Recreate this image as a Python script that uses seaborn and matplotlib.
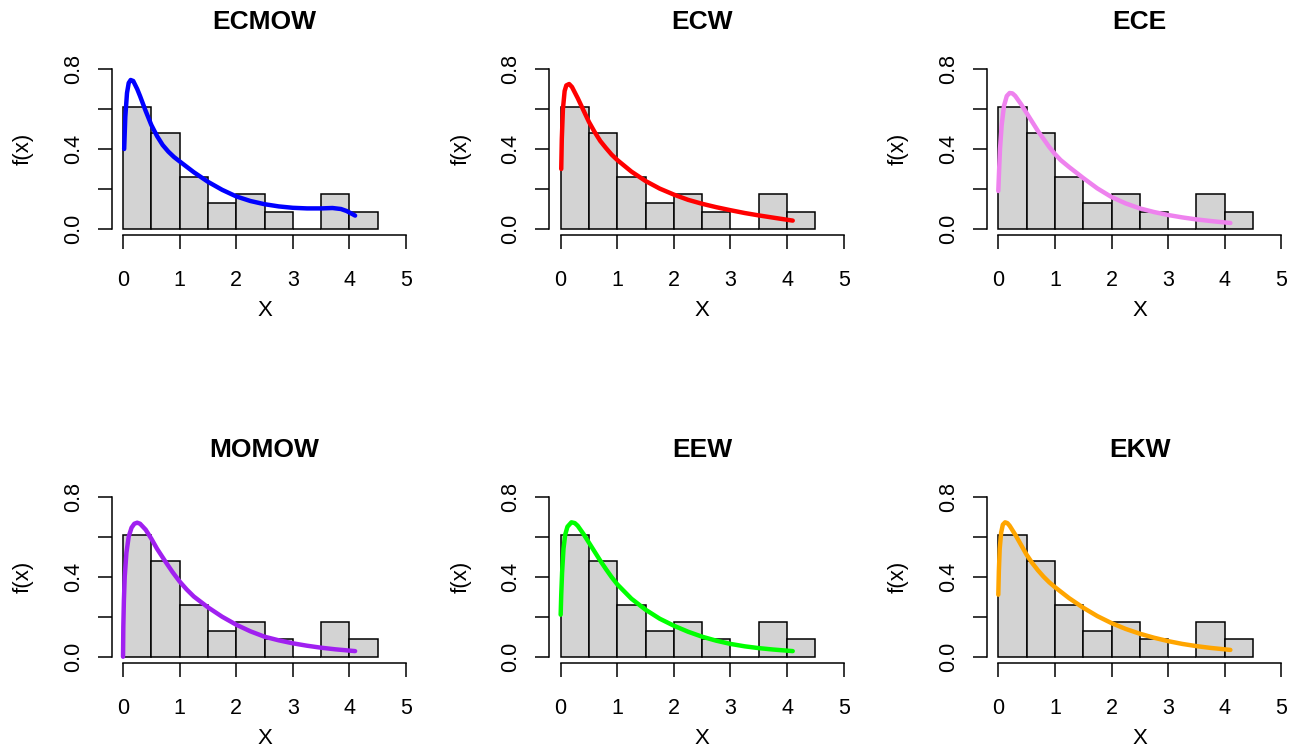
import numpy as np
import pandas as pd
import matplotlib
matplotlib.use("Agg")
import matplotlib.pyplot as plt
import seaborn as sns

# Histogram (shared by all panels): bin edges and density heights
bin_edges = [0, 0.5, 1, 1.5, 2, 2.5, 3, 3.5, 4, 4.5]
bin_density = [0.609, 0.478, 0.261, 0.130, 0.174, 0.087, 0.0, 0.174, 0.087]

# Fitted densities
ecmow_x = [0.02, 0.04, 0.07, 0.1, 0.135, 0.18, 0.25, 0.3, 0.4, 0.5, 0.6, 0.7, 0.8, 0.9, 1.0,
           1.25, 1.5, 1.75, 2.0, 2.25, 2.5, 2.75, 3.0, 3.25, 3.5, 3.7, 3.85, 3.95, 4.05, 4.1]
ecmow_y = [0.40, 0.56, 0.68, 0.73, 0.745, 0.74, 0.70, 0.665, 0.59, 0.52, 0.465, 0.42, 0.387, 0.36, 0.338,
           0.284, 0.236, 0.196, 0.163, 0.14, 0.124, 0.113, 0.106, 0.103, 0.103, 0.105, 0.10, 0.09, 0.075, 0.067]

ecw_x = [0.01, 0.02, 0.04, 0.07, 0.1, 0.15, 0.2, 0.3, 0.4, 0.5, 0.6, 0.7, 0.8, 0.9, 1.0,
         1.25, 1.5, 1.75, 2.0, 2.25, 2.5, 2.75, 3.0, 3.25, 3.5, 3.75, 4.1]
ecw_y = [0.30, 0.45, 0.60, 0.69, 0.718, 0.725, 0.71, 0.655, 0.595, 0.535, 0.485, 0.44, 0.405, 0.372, 0.345,
         0.287, 0.240, 0.202, 0.172, 0.146, 0.126, 0.109, 0.094, 0.08, 0.068, 0.057, 0.042]

ece_x = [0.0, 0.015, 0.03, 0.06, 0.1, 0.15, 0.2, 0.25, 0.3, 0.4, 0.5, 0.6, 0.7, 0.8, 0.9, 1.0, 1.1,
         1.25, 1.5, 1.75, 2.0, 2.25, 2.5, 2.75, 3.0, 3.25, 3.5, 3.75, 4.1]
ece_y = [0.19, 0.30, 0.40, 0.52, 0.615, 0.665, 0.68, 0.678, 0.665, 0.625, 0.58, 0.535, 0.49, 0.45, 0.41, 0.375, 0.345,
         0.31, 0.255, 0.203, 0.16, 0.128, 0.103, 0.085, 0.07, 0.058, 0.048, 0.04, 0.03]

momow_x = [0.0, 0.005, 0.015, 0.03, 0.06, 0.1, 0.15, 0.2, 0.25, 0.3, 0.4, 0.5, 0.6, 0.75, 0.875, 1.0,
           1.125, 1.25, 1.5, 1.75, 2.0, 2.25, 2.5, 2.75, 3.0, 3.25, 3.5, 3.75, 4.1]
momow_y = [0.0, 0.15, 0.28, 0.40, 0.52, 0.60, 0.645, 0.665, 0.67, 0.665, 0.635, 0.59, 0.54, 0.475, 0.423, 0.376,
           0.336, 0.301, 0.247, 0.20, 0.16, 0.127, 0.10, 0.082, 0.067, 0.055, 0.045, 0.037, 0.028]

eew_x = [0.0, 0.01, 0.025, 0.05, 0.08, 0.12, 0.19, 0.25, 0.3, 0.4, 0.5, 0.6, 0.7, 0.8, 0.9, 1.0,
         1.25, 1.5, 1.75, 2.0, 2.25, 2.5, 2.75, 3.0, 3.25, 3.5, 3.75, 4.1]
eew_y = [0.21, 0.31, 0.42, 0.54, 0.61, 0.65, 0.672, 0.668, 0.655, 0.615, 0.57, 0.525, 0.48, 0.438, 0.398, 0.362,
         0.29, 0.235, 0.19, 0.155, 0.125, 0.10, 0.08, 0.064, 0.052, 0.043, 0.036, 0.028]

ekw_x = [0.0, 0.01, 0.025, 0.05, 0.08, 0.12, 0.16, 0.2, 0.3, 0.4, 0.5, 0.6, 0.7, 0.8, 0.9, 1.0,
         1.25, 1.5, 1.75, 2.0, 2.25, 2.5, 2.75, 3.0, 3.25, 3.5, 3.75, 4.1]
ekw_y = [0.31, 0.43, 0.54, 0.62, 0.66, 0.672, 0.668, 0.655, 0.61, 0.56, 0.51, 0.468, 0.432, 0.40, 0.372, 0.348,
         0.293, 0.245, 0.203, 0.168, 0.139, 0.115, 0.095, 0.078, 0.064, 0.053, 0.044, 0.034]

titles = ["ECMOW", "ECW", "ECE", "MOMOW", "EEW", "EKW"]
colors = ["#0000FF", "#FF0000", "#EE82EE", "#A020F0", "#00FF00", "#FFA500"]
curves = [(ecmow_x, ecmow_y), (ecw_x, ecw_y), (ece_x, ece_y),
          (momow_x, momow_y), (eew_x, eew_y), (ekw_x, ekw_y)]

sns.set_style("ticks")
plt.rcParams['font.family'] = ['Liberation Sans', 'DejaVu Sans']
plt.rcParams.update({"text.color": "black", "axes.labelcolor": "black",
                     "xtick.color": "black", "ytick.color": "black",
                     "axes.edgecolor": "black"})

fig = plt.figure(figsize=(12.99, 7.55), dpi=100)

lefts = [0.086, 0.4229, 0.7598]
bottoms = [0.6882, 0.1217]
w, h = 0.2353, 0.2289

centers = [(a + b) / 2 for a, b in zip(bin_edges[:-1], bin_edges[1:])]
hist_df = pd.DataFrame({"x": centers, "density": bin_density})

for i, (title, col, (cx, cy)) in enumerate(zip(titles, colors, curves)):
    ax = fig.add_axes([lefts[i % 3], bottoms[i // 3], w, h])
    sns.histplot(data=hist_df, x="x", weights="density", bins=bin_edges, stat="count",
                 color="#D3D3D3", edgecolor="black", linewidth=1.1, alpha=1, ax=ax)
    curve_df = pd.DataFrame({"x": cx, "y": cy})
    sns.lineplot(data=curve_df, x="x", y="y", color=col, linewidth=3.2, ax=ax,
                 solid_capstyle="round", solid_joinstyle="round", sort=False)

    ax.set_xlim(-0.2, 5.2)
    ax.set_ylim(-0.032, 0.832)
    ax.set_xticks([0, 1, 2, 3, 4, 5])
    ax.set_yticks([0, 0.2, 0.4, 0.6, 0.8])
    ax.set_yticklabels(["0.0", "", "0.4", "", "0.8"], rotation=90, va="center")
    for s in ["top", "right"]:
        ax.spines[s].set_visible(False)
    ax.spines["bottom"].set_bounds(0, 5)
    ax.spines["left"].set_bounds(0, 0.8)
    for s in ["bottom", "left"]:
        ax.spines[s].set_linewidth(1.1)
    ax.tick_params(axis="x", length=10, width=1.1, pad=15, labelsize=15.5)
    ax.tick_params(axis="y", length=10, width=1.1, pad=10, labelsize=15.5)

    ax.set_xlabel("X", fontsize=16)
    ax.xaxis.label.set_va("center")
    ax.xaxis.set_label_coords(0.5, -0.435)
    ax.set_ylabel("f(x)", fontsize=16)
    ax.yaxis.label.set_va("center")
    ax.yaxis.set_label_coords(-0.29, 0.5)
    ax.set_title(title, fontsize=19, fontweight="bold", y=1.235, pad=0, va="center")

fig.savefig("out.png", dpi=100)
